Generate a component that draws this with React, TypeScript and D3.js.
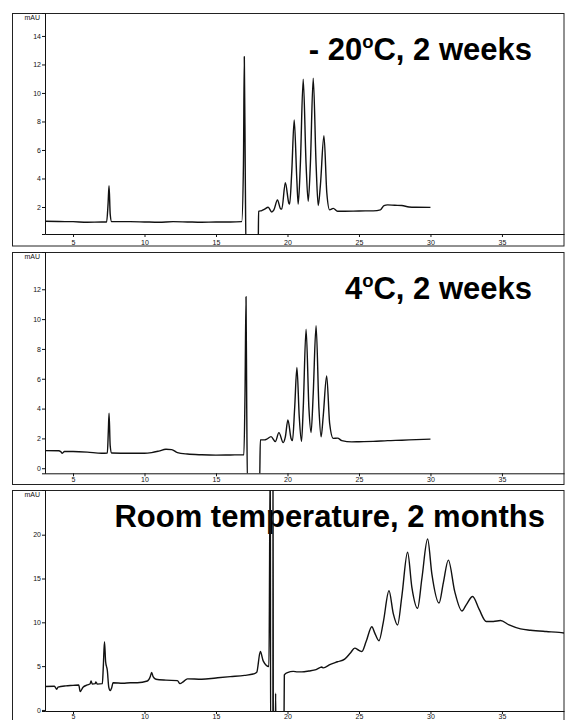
import React, { useRef, useEffect } from 'react';
import * as d3 from 'd3';

// retention time (min) / absorbance (mAU)
const timeCold = [3.0, 4.0, 5.0, 6.0, 7.0, 7.35, 7.45, 7.52, 7.6, 7.7, 9.0, 10.0, 11.0, 12.0, 13.0, 14.0, 15.0, 16.0, 16.8, 16.92, 16.98, 17.05, 17.1, 17.95, 17.98, 18.2, 18.4, 18.65, 18.9, 19.05, 19.3, 19.5, 19.6, 19.85, 20.1, 20.15, 20.3, 20.47, 20.65, 20.75, 20.9, 21.1, 21.3, 21.45, 21.6, 21.8, 22.0, 22.15, 22.3, 22.55, 22.75, 22.95, 23.2, 23.5, 24.0, 25.0, 26.0, 26.5, 26.75, 27.0, 27.5, 28.0, 28.5, 29.0, 30.0];
const mauCold = [1.0, 0.98, 0.97, 0.93, 0.95, 0.95, 2.2, 3.5, 1.5, 0.97, 0.97, 0.95, 0.93, 0.97, 0.95, 0.93, 0.95, 0.95, 0.97, 5.0, 12.55, 4.0, -1.0, -1.0, 1.7, 1.75, 1.85, 1.98, 1.65, 1.8, 2.5, 1.9, 1.85, 3.7, 2.25, 2.2, 4.5, 8.1, 4.0, 2.2, 5.0, 10.96, 5.0, 2.4, 5.0, 11.03, 5.0, 2.1, 3.5, 7.0, 3.0, 1.8, 1.9, 1.7, 1.7, 1.72, 1.73, 1.8, 2.1, 2.15, 2.12, 2.1, 2.0, 1.98, 1.97];

const time4C = [3.0, 4.0, 4.15, 4.25, 4.4, 5.0, 6.0, 7.0, 7.4, 7.47, 7.52, 7.6, 7.7, 9.0, 10.0, 10.5, 11.0, 11.5, 11.9, 12.3, 13.0, 14.0, 15.0, 16.0, 16.95, 17.03, 17.1, 17.15, 17.2, 18.05, 18.1, 18.4, 18.55, 18.85, 19.15, 19.4, 19.7, 19.85, 20.03, 20.25, 20.35, 20.5, 20.66, 20.82, 20.98, 21.1, 21.3, 21.5, 21.65, 21.8, 22.0, 22.2, 22.35, 22.5, 22.74, 22.95, 23.2, 23.5, 23.8, 24.5, 25.0, 26.0, 27.0, 28.0, 29.0, 30.0];
const mau4C = [1.18, 1.17, 1.1, 1.0, 1.12, 1.12, 1.08, 1.0, 1.02, 2.5, 3.69, 1.5, 1.02, 1.0, 1.0, 1.05, 1.15, 1.27, 1.25, 1.05, 0.95, 0.9, 0.88, 0.89, 0.9, 5.0, 11.5, 4.0, -1.0, -1.0, 1.9, 1.9, 1.95, 2.12, 1.79, 2.39, 1.72, 2.1, 3.24, 2.0, 1.85, 4.0, 6.75, 3.5, 1.8, 4.0, 9.33, 4.0, 2.4, 5.0, 9.55, 4.0, 2.1, 3.5, 6.19, 3.0, 2.0, 2.02, 1.85, 1.77, 1.78, 1.8, 1.85, 1.88, 1.92, 1.95];

const timeRoom = [3.0, 3.7, 3.86, 3.95, 4.5, 5.0, 5.4, 5.5, 5.7, 6.0, 6.2, 6.26, 6.35, 6.55, 6.6, 6.7, 7.05, 7.12, 7.2, 7.28, 7.4, 7.5, 7.6, 7.7, 7.8, 8.5, 9.0, 9.5, 10.2, 10.4, 10.5, 10.6, 10.8, 11.5, 12.3, 12.48, 12.7, 13.0, 14.0, 15.0, 16.0, 17.0, 17.6, 17.85, 18.1, 18.3, 18.7, 18.8, 18.82, 18.98, 18.99, 19.01, 19.14, 19.17, 19.2, 19.74, 19.78, 20.0, 20.4, 20.7, 21.0, 21.5, 22.0, 22.4, 22.5, 23.0, 23.5, 24.0, 24.4, 24.7, 25.0, 25.2, 25.5, 25.9, 26.1, 26.4, 26.7, 27.1, 27.4, 27.7, 28.0, 28.4, 28.7, 29.1, 29.4, 29.8, 30.1, 30.6, 30.9, 31.25, 31.7, 32.2, 32.5, 32.95, 33.4, 33.9, 34.4, 34.9, 35.5, 36.3, 37.0, 38.1, 39.0, 39.4];
const mauRoom = [2.67, 2.7, 2.36, 2.6, 2.75, 2.8, 2.85, 2.1, 2.6, 2.85, 3.0, 3.3, 2.95, 3.0, 3.2, 2.95, 3.0, 5.0, 7.8, 5.5, 4.5, 2.6, 2.2, 2.5, 3.1, 3.05, 3.1, 3.1, 3.3, 3.8, 4.27, 3.8, 3.5, 3.4, 3.35, 3.0, 3.2, 3.55, 3.5, 3.65, 3.8, 3.95, 4.1, 4.3, 6.67, 5.6, 4.95, 30, -5, -5, 30, -5, -5, 1.9, -5, -5, 4.0, 4.27, 4.4, 4.35, 4.35, 4.45, 4.6, 4.9, 4.8, 5.2, 5.5, 5.8, 6.5, 7.05, 6.8, 6.67, 7.8, 9.5, 8.8, 7.9, 10.0, 13.6, 11.0, 9.7, 13.0, 18.0, 14.0, 11.6, 15.0, 19.5, 15.5, 12.2, 14.5, 17.1, 13.5, 11.3, 12.0, 12.95, 11.5, 10.1, 10.1, 10.2, 9.7, 9.25, 9.1, 8.95, 8.85, 8.77];

const xTicks = [5, 10, 15, 20, 25, 30, 35];
const yTicksCold = [2, 4, 6, 8, 10, 12, 14];
const yTicks4C = [0, 2, 4, 6, 8, 10, 12];
const yTicksRoom = [0, 5, 10, 15, 20];

const panels = [
  { time: timeCold, mau: mauCold, yTicks: yTicksCold, yDomain: [0.105, 15.61], top: 13, axisY: 234, bottom: 245.5, xPad: 3,
    title: ['- 20', 'o', 'C, 2 weeks'], titleX: 532, titleY: 60, anchor: 'end' },
  { time: time4C, mau: mau4C, yTicks: yTicks4C, yDomain: [-0.34, 14.5], top: 252, axisY: 473.3, bottom: 484, xPad: 1.2,
    title: ['4', 'o', 'C, 2 weeks'], titleX: 532, titleY: 299, anchor: 'end' },
  { time: timeRoom, mau: mauRoom, yTicks: yTicksRoom, yDomain: [-0.12, 25.1], top: 490, axisY: 711, bottom: 730, xPad: 0,
    title: ['Room temperature, 2 months'], titleX: 545, titleY: 527, anchor: 'end' },
];

const App = () => {
  const ref = useRef<SVGSVGElement>(null);

  useEffect(() => {
    const svg = d3.select(ref.current);
    svg.selectAll('*').remove();
    const defs = svg.append('defs');

    const x = d3.scaleLinear().domain([3.04, 39.34]).range([45, 564]);

    panels.forEach((p, i) => {
      const y = d3.scaleLinear().domain(p.yDomain).range([p.axisY, p.top]);
      const g = svg.append('g');

      // outer frame
      g.append('rect')
        .attr('x', 12.5).attr('y', p.top + 0.5)
        .attr('width', 551.5).attr('height', p.bottom - p.top)
        .attr('fill', 'none').attr('stroke', '#222').attr('stroke-width', 1);

      const xAxis = g.append('g')
        .attr('transform', `translate(0,${p.axisY})`)
        .call(d3.axisBottom(x).tickValues(xTicks).tickSizeInner(3).tickSizeOuter(0).tickPadding(p.xPad));
      const yAxis = g.append('g')
        .attr('transform', 'translate(45,0)')
        .call(d3.axisLeft(y).tickValues(p.yTicks).tickSize(3).tickPadding(1));
      [xAxis, yAxis].forEach(a => {
        a.attr('font-family', 'Liberation Sans, Arial, sans-serif').attr('font-size', 7);
        a.selectAll('path, line').attr('stroke', '#111');
        a.selectAll('text').attr('fill', '#111');
      });

      g.append('text')
        .attr('x', 40).attr('y', p.top + 6.5)
        .attr('text-anchor', 'end')
        .attr('font-family', 'Liberation Sans, Arial, sans-serif')
        .attr('font-size', 7)
        .attr('fill', '#111')
        .text('mAU');

      // panel title
      const t = g.append('text')
        .attr('x', p.titleX).attr('y', p.titleY)
        .attr('text-anchor', p.anchor)
        .attr('font-family', 'Liberation Sans, Arial, sans-serif')
        .attr('font-weight', 'bold')
        .attr('font-size', 31)
        .attr('fill', '#000');
      if (p.title.length === 3) {
        t.append('tspan').text(p.title[0]);
        t.append('tspan').attr('font-size', 18.5).attr('dy', -12).text(p.title[1]);
        t.append('tspan').attr('dy', 12).text(p.title[2]);
      } else {
        t.text(p.title[0]);
      }

      // trace, clipped to the plot area
      defs.append('clipPath').attr('id', `clip-${i}`)
        .append('rect')
        .attr('x', 45).attr('y', p.top)
        .attr('width', 519).attr('height', p.axisY - p.top);

      const line = d3.line<number>()
        .x((d, j) => x(p.time[j]))
        .y(d => y(d))
        .curve(d3.curveMonotoneX);

      g.append('path')
        .datum(p.mau)
        .attr('d', line)
        .attr('clip-path', `url(#clip-${i})`)
        .attr('fill', 'none')
        .attr('stroke', '#111')
        .attr('stroke-width', 1.4)
        .attr('stroke-linejoin', 'round');
    });
  }, []);

  return (
    <svg ref={ref} width="565" height="720" style={{ position: 'absolute', left: 0, top: 0, background: '#fff' }}></svg>
  );
};

export default App;
